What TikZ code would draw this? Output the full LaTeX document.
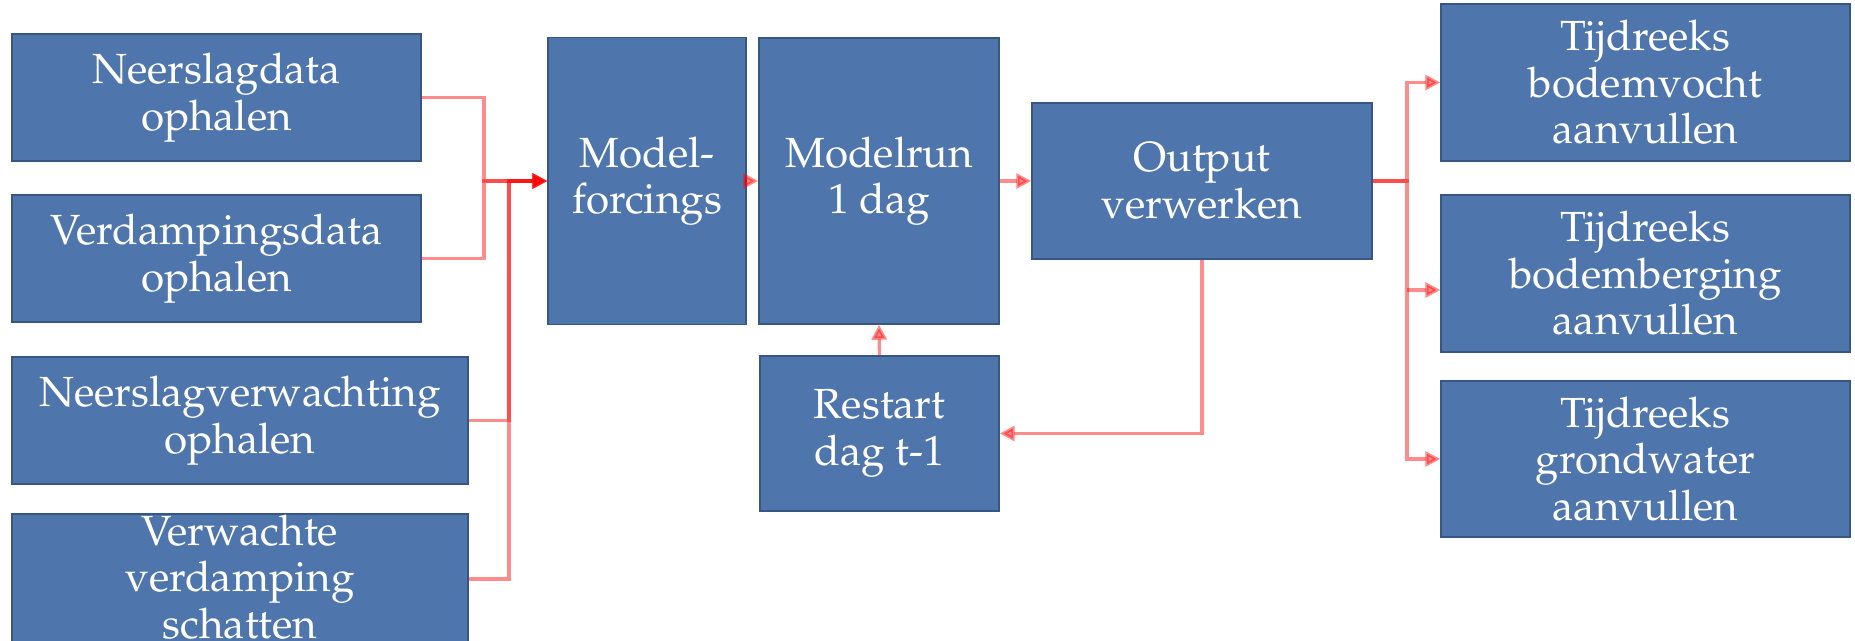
\documentclass[tikz,border=0pt]{standalone}
\usepackage[T1]{fontenc}
\usepackage{mathpazo}
\usepackage{xcolor}
\usepackage{tikz}
\usetikzlibrary{arrows.meta}

\definecolor{blokblauw}{RGB}{79,117,173}
\definecolor{blokrand}{RGB}{56,86,130}

\tikzset{
    blok/.style={draw=blokrand, line width=0.85pt, fill=blokblauw, text=white,
        align=center, inner sep=0pt, font=\fontsize{24}{26.5}\selectfont},
    lijn/.style={draw=red, opacity=0.45, line width=1.9pt},
    pijl/.style={lijn, -{Triangle[length=0.3cm,width=0.3cm]}},
}

\begin{document}
\begin{tikzpicture}[x=0.02cm, y=-0.02cm]
    \useasboundingbox (0,0) rectangle (1855,641);

    % 输入数据
    \node[blok, minimum width=8.18cm, minimum height=2.54cm] (nsd) at (216.5,97.5) {Neerslagdata\\ophalen};
    \node[blok, minimum width=8.18cm, minimum height=2.54cm] (vdd) at (216.5,258.5) {Verdampingsdata\\ophalen};
    \node[blok, minimum width=9.12cm, minimum height=2.54cm] (nsv) at (240,420.5) {Neerslagverwachting\\ophalen};
    \node[blok, minimum width=9.12cm, minimum height=2.6cm] (vvd) at (240,579)
        {\raisebox{-0.28cm}[0pt][0pt]{\begin{tabular}{@{}c@{}}Verwachte\\verdamping\\schatten\end{tabular}}};

    % 模型
    \node[blok, minimum width=3.96cm, minimum height=5.74cm] (mf) at (647,181) {Model-\\forcings};
    \node[blok, minimum width=4.8cm, minimum height=5.72cm] (mr) at (879,181) {Modelrun\\1 dag};
    \node[blok, minimum width=4.78cm, minimum height=3.1cm] (rs) at (879.5,433.5) {Restart\\dag t-1};
    \node[blok, minimum width=6.8cm, minimum height=3.12cm] (op) at (1202,181) {Output\\verwerken};

    % 输出
    \node[blok, minimum width=8.18cm, minimum height=3.14cm] (t1) at (1645.5,82.5) {Tijdreeks\\bodemvocht\\aanvullen};
    \node[blok, minimum width=8.18cm, minimum height=3.14cm] (t2) at (1645.5,273.5) {Tijdreeks\\bodemberging\\aanvullen};
    \node[blok, minimum width=8.18cm, minimum height=3.12cm] (t3) at (1645.5,459) {Tijdreeks\\grondwater\\aanvullen};

    % 连接线
    \coordinate (jl) at (484,181);
    \coordinate (jr) at (509,181);
    \coordinate (jo) at (1407,181);
    \coordinate (jt2) at (1407,290);

    \draw[pijl] (nsd.east) -| (jl) -- (mf.west);
    \draw[pijl] (vdd.east) -| (jl) -- (mf.west);
    \draw[pijl] (nsv.east) -| (jr) -- (mf.west);
    \draw[pijl] (vvd.east) -| (jr) -- (mf.west);

    \draw[pijl] (mf.east) -- (mr.west);
    \draw[pijl] (mr.east) -- (op.west);
    \draw[pijl] (op.south) |- (rs.east);
    \draw[pijl] (rs.north) -- (mr.south);

    \draw[pijl] (op.east) -- (jo) |- (t1.west);
    \draw[pijl] (op.east) -- (jo) |- (t3.west);
    \draw[pijl] (jt2) -- (t2.west |- jt2);

\end{tikzpicture}
\end{document}
